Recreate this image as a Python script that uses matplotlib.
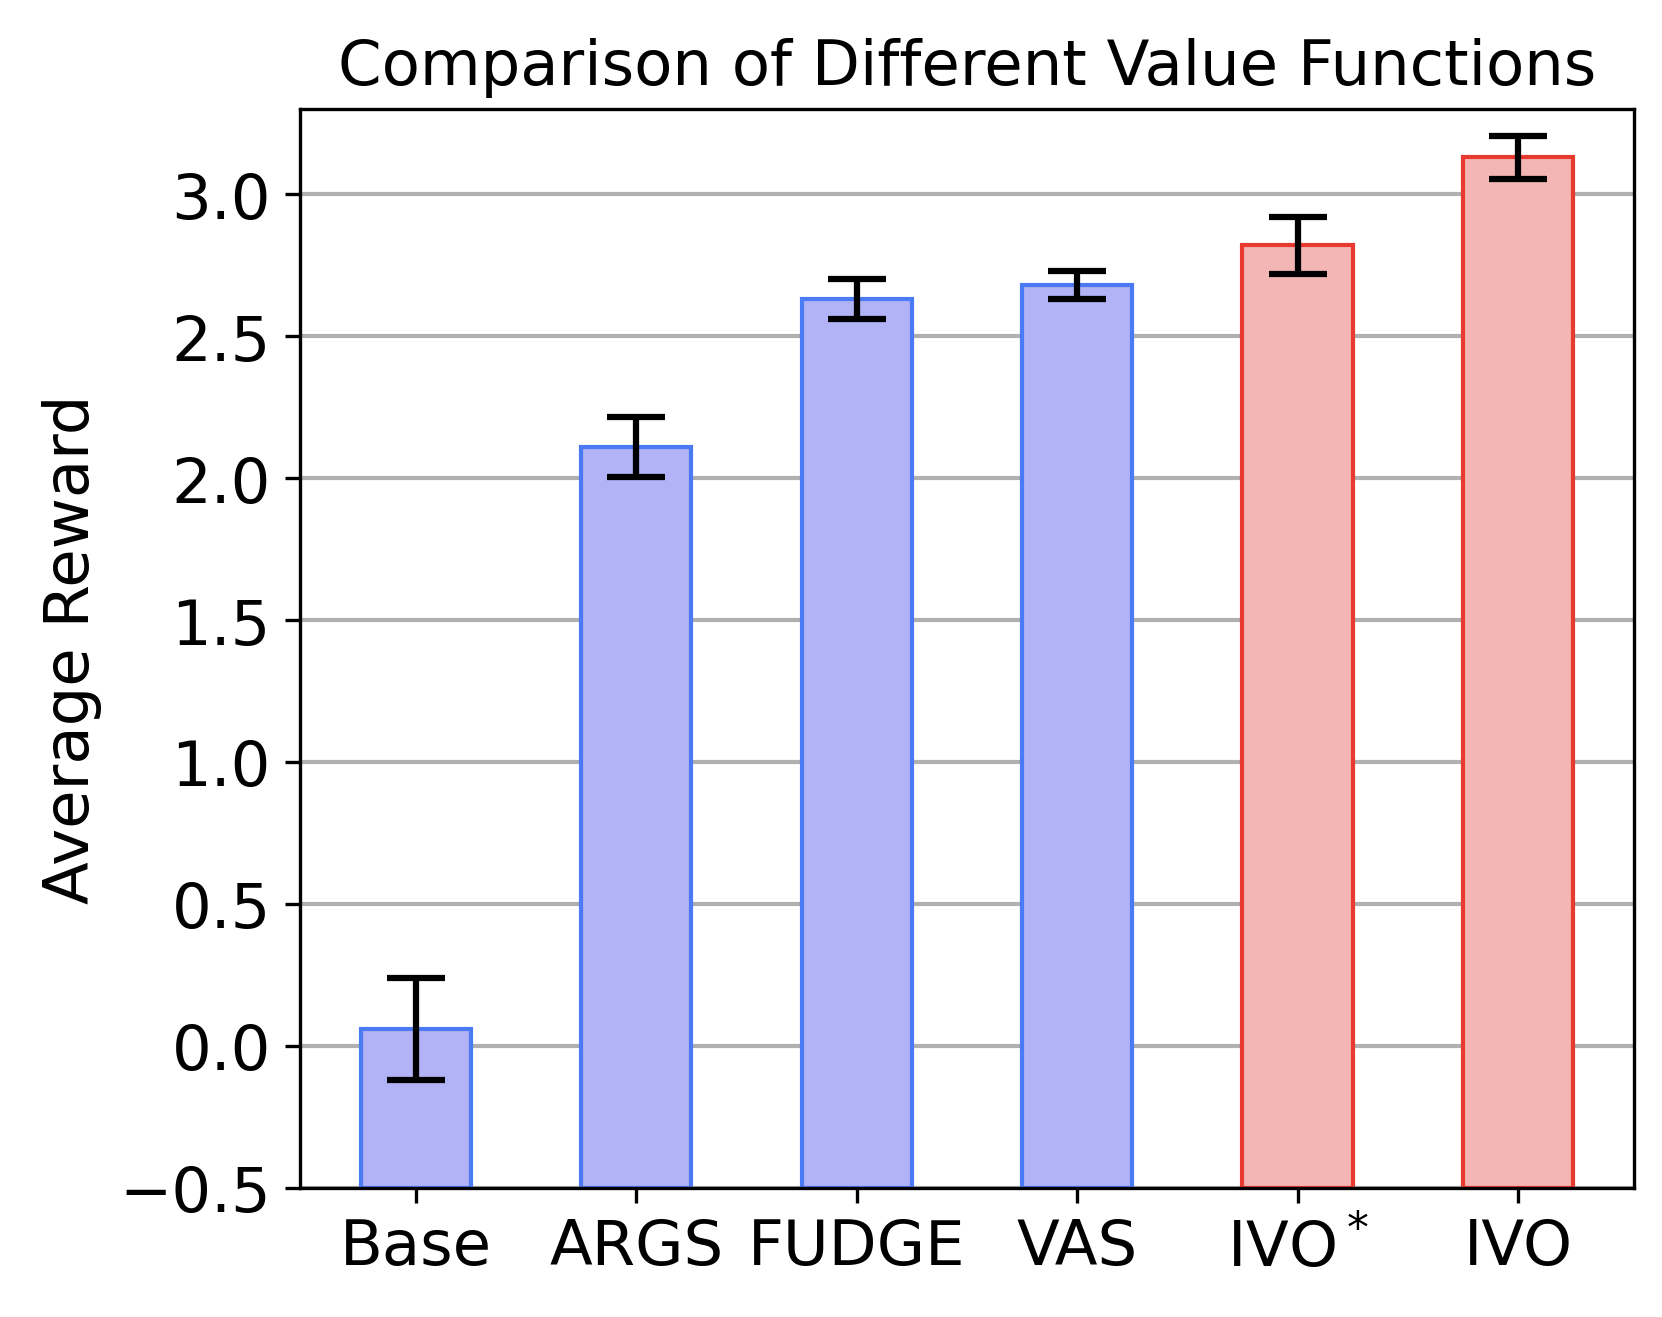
import matplotlib.pyplot as plt

methods = ['Base', 'ARGS', 'FUDGE', 'VAS', 'IVO$^*$', 'IVO']
rewards = [0.06, 2.11, 2.63, 2.68, 2.82, 3.13]
errors = [0.18, 0.105, 0.07, 0.05, 0.1, 0.075]
floor = -0.5  # bars start at the bottom of the axis

fill = ['#b1b3f6'] * 4 + ['#f4b6b5'] * 2
edge = ['#4a7bf5'] * 4 + ['#e83a2e'] * 2

fig = plt.figure(figsize=(5.54, 4.393), dpi=300)
ax = fig.add_axes([0.1805, 0.098, 0.8025, 0.8185])

ax.bar(range(len(methods)), [r - floor for r in rewards], bottom=floor,
       width=0.5, color=fill, edgecolor=edge, linewidth=1.0,
       yerr=errors, capsize=7,
       error_kw={'elinewidth': 1.5, 'capthick': 1.5, 'ecolor': 'black'})
ax.set_xticks(range(len(methods)))
ax.set_xticklabels(methods)
ax.set_ylim(floor, 3.3)
ax.set_ylabel('Average Reward', fontsize=15)
ax.set_title('Comparison of Different Value Functions', fontsize=15)
ax.tick_params(labelsize=15)
ax.yaxis.grid(True, color='#b0b0b0', linewidth=1.0)
ax.set_axisbelow(True)

fig.savefig('out.png', dpi=300)
